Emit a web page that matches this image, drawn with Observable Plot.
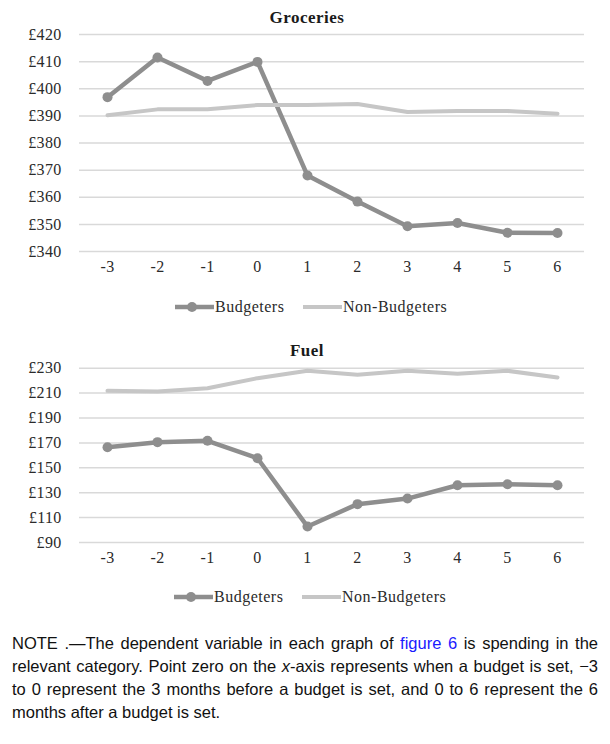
<!DOCTYPE html>
<html>
<head>
<meta charset="utf-8">
<script src="https://cdn.jsdelivr.net/npm/d3@7"></script>
<script src="https://cdn.jsdelivr.net/npm/@observablehq/plot@0.6"></script>
<style>
  html, body { margin: 0; padding: 0; background: #fff; }
  #root { position: relative; width: 610px; height: 744px; overflow: hidden; }
  .abs { position: absolute; }
  .title { font-family: "Liberation Serif", serif; font-weight: bold; font-size: 17px; letter-spacing: 0.5px; color: #1a1a1a;
           width: 200px; text-align: center; line-height: 20px; }
  .legend { font-family: "Liberation Serif", serif; font-size: 16px; letter-spacing: 0.5px; color: #2a2a2a; line-height: 18px; white-space: nowrap; }
  .legend span.item { position: absolute; top: 0; display: flex; align-items: center; }
  .note { font-family: "Liberation Sans", Arial, sans-serif; font-size: 16.5px; color: #111; line-height: 23px; width: 586px; }
  .note div { text-align: justify; text-align-last: justify; white-space: nowrap; }
  .note div.last { text-align-last: left; }
  .note a { color: #1a1aff; text-decoration: none; }
</style>
</head>
<body>
<div id="root"></div>
<script>
// ---- data ----
const months = [-3, -2, -1, 0, 1, 2, 3, 4, 5, 6];
const monthLabels = ["-3", "-2", "-1", "0", "1", "2", "3", "4", "5", "6"];
const seriesNames = ["Budgeters", "Non-Budgeters"];

const groceriesBudgeters    = [396.9, 411.5, 402.9, 409.9, 368.0, 358.4, 349.3, 350.5, 346.9, 346.8];
const groceriesNonBudgeters = [390.2, 392.4, 392.4, 394.0, 394.0, 394.4, 391.4, 391.8, 391.8, 390.8];
const groceriesTicks = [340, 350, 360, 370, 380, 390, 400, 410, 420];

const fuelBudgeters    = [166.5, 170.6, 171.7, 157.7, 102.8, 120.8, 125.3, 136.0, 136.8, 136.0];
const fuelNonBudgeters = [211.8, 211.3, 213.9, 222.0, 227.9, 224.7, 227.9, 225.5, 227.9, 222.5];
const fuelTicks = [90, 110, 130, 150, 170, 190, 210, 230];

const budColor = "#8e8e8e";
const nonColor = "#c6c6c6";
const gridColor = "#d9d9d9";
const textColor = "#2a2a2a";

function chart(bud, non, ticks, opts) {
  const rows = months.map((m, i) => ({m, label: monthLabels[i], b: bud[i], n: non[i]}));
  return Plot.plot({
    width: 610,
    height: opts.height,
    marginLeft: 79,
    marginRight: 26,
    marginTop: opts.marginTop,
    marginBottom: opts.marginBottom,
    style: {fontFamily: "'Liberation Serif', serif", fontSize: "16px", letterSpacing: "0.3px", color: textColor, background: "transparent"},
    x: {type: "point", domain: months, padding: 0.5, axis: null},
    y: {domain: [ticks[0], ticks[ticks.length - 1]], axis: null},
    marks: [
      Plot.ruleY(ticks, {stroke: gridColor, strokeWidth: 1.5}),
      Plot.text(ticks, {y: d => d, text: d => "£" + d, frameAnchor: "left", textAnchor: "end", dx: -18,
                        fill: textColor, fontSize: 16}),
      Plot.text(rows, {x: "m", text: "label", frameAnchor: "bottom", dy: opts.xLabelOffset,
                       fill: textColor, fontSize: 16}),
      Plot.line(rows, {x: "m", y: "b", stroke: budColor, strokeWidth: 4.5, strokeLinejoin: "round"}),
      Plot.dot(rows, {x: "m", y: "b", fill: budColor, r: 5}),
      Plot.line(rows, {x: "m", y: "n", stroke: nonColor, strokeWidth: 4, strokeLinejoin: "round"})
    ]
  });
}

function legend(top, left) {
  const d = document.createElement("div");
  d.className = "abs legend";
  d.style.top = (top - 9) + "px";
  d.style.left = "0px";
  d.style.width = "610px";
  d.style.height = "18px";
  d.innerHTML =
    `<span class="item" style="left:${left}px"><svg width="39" height="12" style="margin-right:1px"><line x1="0" x2="39" y1="6" y2="6" stroke="${budColor}" stroke-width="4.5"/><circle cx="17" cy="6" r="5" fill="${budColor}"/></svg>${seriesNames[0]}</span>` +
    `<span class="item" style="left:${left + 128}px"><svg width="39" height="12" style="margin-right:1px"><line x1="0" x2="39" y1="6" y2="6" stroke="${nonColor}" stroke-width="4"/></svg>${seriesNames[1]}</span>`;
  return d;
}

function title(text, top, cx) {
  const d = document.createElement("div");
  d.className = "abs title";
  d.textContent = text;
  d.style.top = (top - 10) + "px";
  d.style.left = (cx - 100) + "px";
  return d;
}

const root = document.getElementById("root");

const p1 = chart(groceriesBudgeters, groceriesNonBudgeters, groceriesTicks,
                 {height: 290, marginTop: 34, marginBottom: 39, xLabelOffset: 20.5});
p1.classList.add("abs"); p1.style.top = "0px"; p1.style.left = "0px";
root.appendChild(p1);
root.appendChild(title("Groceries", 18, 307));
root.appendChild(legend(306.5, 175));

const p2 = chart(fuelBudgeters, fuelNonBudgeters, fuelTicks,
                 {height: 250, marginTop: 37.7, marginBottom: 38, xLabelOffset: 20});
p2.classList.add("abs"); p2.style.top = "330px"; p2.style.left = "0px";
root.appendChild(p2);
root.appendChild(title("Fuel", 351, 307));
root.appendChild(legend(597, 174));

const note = document.createElement("div");
note.className = "abs note";
note.style.top = "632px";
note.style.left = "12px";
note.innerHTML =
  `<div>NOTE .—The dependent variable in each graph of <a>figure 6</a> is spending in the</div>` +
  `<div>relevant category. Point zero on the <i>x</i>-axis represents when a budget is set, −3</div>` +
  `<div>to 0 represent the 3 months before a budget is set, and 0 to 6 represent the 6</div>` +
  `<div class="last">months after a budget is set.</div>`;
root.appendChild(note);
</script>
</body>
</html>
